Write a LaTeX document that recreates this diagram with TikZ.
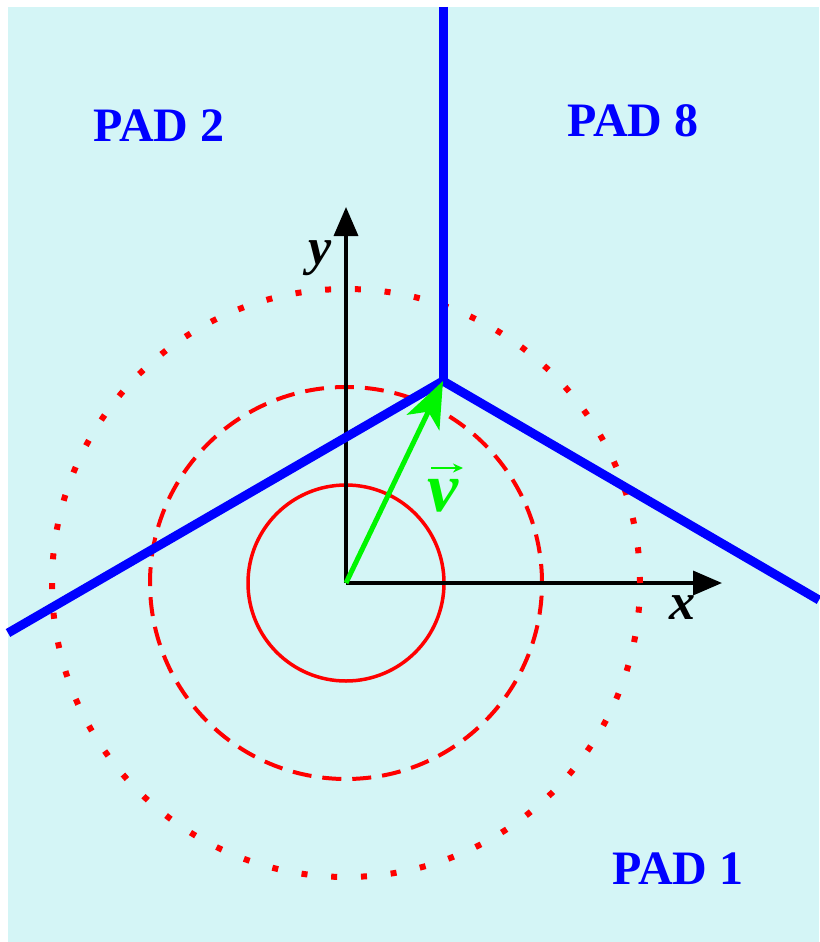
\documentclass[tikz,border=0pt]{standalone}
\usepackage{fontspec}
\setmainfont{Liberation Serif}
\usetikzlibrary{arrows.meta}
\definecolor{bgc}{RGB}{212,245,246}
\definecolor{padblue}{RGB}{0,0,255}
\definecolor{vgreen}{RGB}{0,245,0}
\definecolor{cred}{RGB}{255,0,0}
\tikzset{
  padlabel/.style={text=padblue,font=\fontsize{48}{58}\selectfont\bfseries,inner sep=0pt},
  axislabel/.style={font=\fontsize{52}{60}\selectfont\bfseries\itshape,inner sep=0pt},
  axisline/.style={line width=3.5pt,-{Triangle[length=29pt,width=24pt]}},
  padline/.style={padblue,line width=9pt},
  ringsolid/.style={cred,line width=3.5pt},
  ringdashed/.style={cred,line width=4pt,dash pattern=on 19pt off 11pt},
  ringdotted/.style={cred,line width=6pt,dash pattern=on 6pt off 23.8pt}
}
\begin{document}
\begin{tikzpicture}[x=1pt,y=-1pt]
\useasboundingbox (0,0) rectangle (819,942);
\fill[bgc] (8,7) rectangle (819,942);
\coordinate (O) at (346,583);
\coordinate (V) at (443,381);
\coordinate (top) at (443,7);
\coordinate (left) at (8,633);
\coordinate (right) at (819,600);
\coordinate (xtip) at (722,583);
\coordinate (ytip) at (346,207);
% rings
\draw[ringsolid] (O) circle[radius=98pt];
\draw[ringdashed] (O) circle[radius=196pt];
% axes
\draw[axisline] (O) -- (xtip);
\draw[axisline] (O) -- (ytip);
\draw[ringdotted] (O) circle[radius=294pt];
% pad borders
\draw[padline,line cap=butt] (top) -- (V);
\draw[padline,line join=miter] (left) -- (V) -- (right);
% vector
\draw[vgreen,line width=5pt,-{Stealth[length=46pt,width=36pt,inset=12pt]}] (O) -- (V);
% labels
\node[padlabel] (pad2) at (159,126) {PAD 2};
\node[padlabel] (pad8) at (633,121) {PAD 8};
\node[padlabel] (pad1) at (678,869) {PAD 1};
\node[axislabel] (xl) at (682,608) {x};
\node[axislabel] (yl) at (320,258) {y};
\node[text=vgreen,font=\fontsize{70}{72}\selectfont\bfseries\itshape,inner sep=0pt,anchor=base] (vl) at (443,511) {v};
\coordinate (va) at (431,468);
\coordinate (vb) at (463,468);
\draw[vgreen,line width=2pt,-{Stealth[length=10pt,width=9pt]}] (va) -- (vb);
\end{tikzpicture}
\end{document}
